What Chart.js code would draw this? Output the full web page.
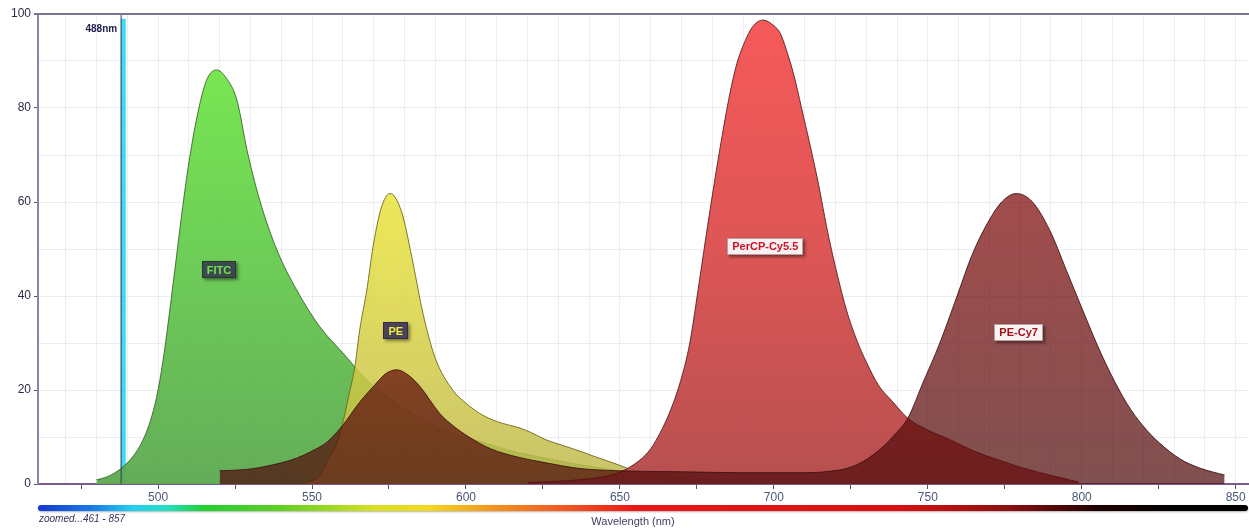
<!DOCTYPE html>
<html>
<head>
<meta charset="utf-8">
<script src="https://cdn.jsdelivr.net/npm/chart.js@4/dist/chart.umd.min.js"></script>
<style>
    html, body { margin: 0; padding: 0; background: #ffffff; overflow: hidden; }
    #wrap { width: 1249px; height: 532px; position: relative; }
</style>
</head>
<body>
<div id="wrap"><canvas id="spectraChart" width="1249" height="532"></canvas></div>
<script>
// emission spectra (wavelength in nm, relative intensity)
const fitcNm = [480, 483.4, 486, 488, 490, 492, 494, 496, 498, 500, 502, 504, 506, 508, 510.4, 513.6, 516, 519, 522, 525.6, 528.9, 533, 538.6, 545, 552.6, 560, 567.8, 575, 583, 595, 605, 615, 626, 637, 648, 660, 675, 690, 700];
const fitcVal = [0.9, 1.5, 2.4, 3.3, 4.5, 6, 8, 10.7, 14.5, 20, 28, 38, 48.5, 59, 70, 81, 86.3, 88.1, 86.5, 81.7, 71, 60.4, 49.8, 41.3, 33.4, 27.9, 22.1, 18.3, 14.8, 11, 9, 7, 5.5, 4.1, 3, 2, 1.2, 0.6, 0];

const peNm = [548, 552, 555.8, 558, 560, 562, 563.9, 565.5, 567.8, 569.8, 572, 573.5, 575.3, 577, 579.5, 582.8, 586, 589.9, 595.7, 600, 604.5, 610, 617.5, 621, 626, 631, 637, 642, 647.7, 653, 658, 665, 672];
const peVal = [0.3, 1.5, 6, 8.5, 13, 19, 24.9, 32.8, 41.3, 50.4, 57.6, 60.5, 61.8, 61, 57, 47, 36.4, 27, 20, 17.2, 15, 13.3, 11.9, 11, 9.4, 8.3, 7, 5.8, 4.5, 3.2, 1.8, 0.6, 0];

const percpNm = [620, 635, 645, 650, 656.5, 660, 663, 666, 668.5, 671, 672.7, 676, 678.5, 682.4, 685.7, 688, 690.5, 693, 696.5, 700, 702, 704, 706.5, 709, 714, 718, 723.6, 727, 730, 734, 738.6, 743.5, 750, 757, 765, 773, 781, 789.6, 799];
const percpVal = [0.3, 0.8, 1.6, 2.5, 5.1, 7.5, 10.8, 15, 19.4, 25, 30, 44, 55, 71, 83, 89.5, 94, 97.2, 98.7, 97.5, 96, 92.5, 87, 80, 65.4, 52, 37, 30.5, 26, 21, 17.5, 14, 11.5, 9.5, 7, 5.1, 3.4, 1.9, 0.4];

const pecy7Nm = [520, 530, 540, 545, 550, 555, 560, 565, 570, 574, 577.5, 581, 585, 591.5, 596, 601, 608, 617, 626, 637, 650, 670, 690, 710, 718, 724.6, 730, 735.4, 739.5, 743.5, 748.4, 753.9, 759.4, 764.6, 770, 774, 778.8, 784, 789.6, 795, 800.3, 806.8, 814.6, 820, 825.3, 832, 838.3, 846.4];
const pecy7Val = [2.8, 3.2, 4.5, 5.5, 7, 9, 12.5, 17, 20.8, 23.5, 24.3, 23.3, 20.8, 15, 12.3, 10, 7.5, 5.7, 4.5, 3.3, 2.8, 2.6, 2.4, 2.4, 2.7, 3.5, 5.2, 7.9, 10.7, 14, 21.5, 30, 39.8, 49.1, 56.2, 60, 61.8, 60, 54, 45.5, 37, 27, 17.2, 12.3, 8.7, 5.3, 3.4, 1.9];

const laserNm = 488;
const laserLabel = '488nm';

const dyeNames = ['FITC', 'PE', 'PerCP-Cy5.5', 'PE-Cy7'];
// where each name tag sits, in wavelength / intensity units
const tagNm = [519.8, 577.2, 697.2, 779.5];
const tagVal = [45.6, 32.6, 50.6, 32.3];

// colour bar under the axis
const barNm = [461, 478, 492, 503, 515, 540, 570, 588, 610, 635, 655, 740, 775, 805, 830];
const barColors = ['#1438d0', '#1a78e8', '#22d0f0', '#22e0c0', '#20d030', '#60d020', '#d8e020', '#f4d820', '#f49020', '#f05020', '#e81818', '#d81010', '#901010', '#200000', '#000000'];

function toPoints(xs, ys) {
    return xs.map((x, i) => ({ x: x, y: ys[i] }));
}

function vfill(top, mid, bottom) {
    return function(context) {
        const chart = context.chart;
        const area = chart.chartArea;
        if (!area) {
            return mid;
        }
        const g = chart.ctx.createLinearGradient(0, area.top, 0, area.bottom);
        g.addColorStop(0, top);
        g.addColorStop(0.5, mid);
        g.addColorStop(1, bottom);
        return g;
    };
}

const tagStyles = [
    { bg: '#3b4a4c', fg: '#74e24e', border: '#2a3434' },
    { bg: '#4a4258', fg: '#f2ee3c', border: '#332c40' },
    { bg: '#f7f1f1', fg: '#d0102c', border: '#b8a0a0' },
    { bg: '#f8f4f4', fg: '#a41018', border: '#b8a0a0' }
];

const extrasPlugin = {
    id: 'extras',
    afterDraw(chart) {
        const ctx = chart.ctx;
        const area = chart.chartArea;
        const xs = chart.scales.x;
        const ys = chart.scales.y;

        // top frame line
        ctx.save();
        ctx.strokeStyle = '#7c7294';
        ctx.lineWidth = 2;
        ctx.beginPath();
        ctx.moveTo(area.left - 4, area.top);
        ctx.lineTo(chart.width, area.top);
        ctx.stroke();

        // laser label
        ctx.font = 'bold 10px "Liberation Sans", Arial, sans-serif';
        ctx.fillStyle = '#22204e';
        ctx.textAlign = 'right';
        ctx.textBaseline = 'middle';
        ctx.fillText(laserLabel, xs.getPixelForValue(laserNm) - 4, area.top + 15);

        // dye name tags
        ctx.font = 'bold 11px "Liberation Sans", Arial, sans-serif';
        ctx.textAlign = 'center';
        dyeNames.forEach((name, i) => {
            const st = tagStyles[i];
            const cx = xs.getPixelForValue(tagNm[i]);
            const cy = ys.getPixelForValue(tagVal[i]);
            const w = ctx.measureText(name).width + 10;
            const h = 17;
            ctx.save();
            ctx.shadowColor = 'rgba(0,0,0,0.45)';
            ctx.shadowBlur = 3;
            ctx.shadowOffsetX = 2;
            ctx.shadowOffsetY = 2;
            ctx.fillStyle = st.bg;
            ctx.fillRect(Math.round(cx - w / 2), Math.round(cy - h / 2), Math.round(w), h);
            ctx.restore();
            ctx.strokeStyle = st.border;
            ctx.lineWidth = 1;
            ctx.strokeRect(Math.round(cx - w / 2) + 0.5, Math.round(cy - h / 2) + 0.5, Math.round(w) - 1, h - 1);
            ctx.fillStyle = st.fg;
            ctx.fillText(name, cx, cy + 1);
        });

        // spectrum colour bar
        const barTop = area.bottom + 21;
        const g = ctx.createLinearGradient(area.left, 0, area.right, 0);
        const span = area.right - area.left;
        barNm.forEach((nm, i) => {
            const p = (xs.getPixelForValue(nm) - area.left) / span;
            g.addColorStop(Math.min(1, Math.max(0, p)), barColors[i]);
        });
        ctx.save();
        ctx.shadowColor = 'rgba(0,0,0,0.3)';
        ctx.shadowBlur = 2;
        ctx.shadowOffsetY = 1;
        ctx.fillStyle = g;
        ctx.beginPath();
        ctx.roundRect(area.left, barTop, span, 6, 3);
        ctx.fill();
        ctx.restore();

        // captions
        ctx.fillStyle = '#33335a';
        ctx.textAlign = 'left';
        ctx.font = 'italic 10px "Liberation Sans", Arial, sans-serif';
        ctx.fillText('zoomed...461 - 857', area.left + 1, barTop + 14);
        ctx.fillStyle = '#404062';
        ctx.textAlign = 'center';
        ctx.font = '11px "Liberation Sans", Arial, sans-serif';
        ctx.fillText('Wavelength (nm)', 633, barTop + 17);
        ctx.restore();
    }
};

const ctx = document.getElementById('spectraChart').getContext('2d');

new Chart(ctx, {
    type: 'line',
    data: {
        datasets: [{
            label: 'laser',
            data: [{ x: laserNm, y: 0 }, { x: laserNm, y: 100 }],
            borderColor: '#3a3a46',
            borderWidth: 1,
            fill: false,
            order: 0
        }, {
            label: dyeNames[3],
            data: toPoints(pecy7Nm, pecy7Val),
            borderColor: 'rgba(60,15,15,0.85)',
            borderWidth: 1,
            backgroundColor: vfill('rgba(150,5,5,0.72)', 'rgba(118,8,8,0.72)', 'rgba(80,12,12,0.72)'),
            fill: 'origin',
            order: 1
        }, {
            label: dyeNames[2],
            data: toPoints(percpNm, percpVal),
            borderColor: 'rgba(80,25,25,0.85)',
            borderWidth: 1,
            backgroundColor: vfill('rgba(246,84,84,0.97)', 'rgba(220,80,80,0.97)', 'rgba(180,74,74,0.97)'),
            fill: 'origin',
            order: 2
        }, {
            label: dyeNames[1],
            data: toPoints(peNm, peVal),
            borderColor: 'rgba(110,105,30,0.9)',
            borderWidth: 1,
            backgroundColor: vfill('rgba(246,244,40,0.82)', 'rgba(226,220,55,0.82)', 'rgba(190,184,80,0.85)'),
            fill: 'origin',
            order: 3
        }, {
            label: dyeNames[0],
            data: toPoints(fitcNm, fitcVal),
            borderColor: 'rgba(50,95,35,0.85)',
            borderWidth: 1,
            backgroundColor: vfill('rgba(116,236,70,0.95)', 'rgba(102,204,78,0.95)', 'rgba(92,168,80,0.95)'),
            fill: 'origin',
            order: 4
        }, {
            label: 'laser bar',
            data: [{ x: laserNm + 0.7, y: 0 }, { x: laserNm + 0.7, y: 99 }],
            borderColor: '#3edcf2',
            borderWidth: 5,
            fill: false,
            order: 5
        }]
    },
    options: {
        responsive: false,
        animation: false,
        events: [],
        elements: {
            point: { radius: 0 },
            line: { cubicInterpolationMode: 'monotone' }
        },
        layout: { padding: { top: 14, right: 1, left: 0, bottom: 0 } },
        plugins: {
            legend: { display: false },
            tooltip: { enabled: false }
        },
        scales: {
            x: {
                type: 'linear',
                min: 461,
                max: 854,
                afterFit: function(scale) { scale.height = 48; },
                ticks: {
                    stepSize: 5,
                    includeBounds: false,
                    autoSkip: false,
                    maxRotation: 0,
                    minRotation: 0,
                    padding: 1,
                    color: '#4a5878',
                    font: { family: '"Liberation Sans", Arial, sans-serif', size: 12 },
                    callback: function(value) {
                        return value % 50 === 0 ? value : '';
                    }
                },
                grid: {
                    color: function(c) {
                        return c.tick && c.tick.value % 10 === 0 ? '#ececf2' : 'rgba(0,0,0,0)';
                    },
                    tickColor: function(c) {
                        return c.tick && c.tick.value % 25 === 0 ? '#555566' : 'rgba(0,0,0,0)';
                    },
                    tickLength: 5
                },
                border: { color: '#7a5a92', width: 2 }
            },
            y: {
                min: 0,
                max: 100,
                afterFit: function(scale) { scale.width = 38; },
                ticks: {
                    stepSize: 10,
                    padding: 3,
                    color: '#2c2c48',
                    font: { family: '"Liberation Sans", Arial, sans-serif', size: 12 },
                    callback: function(value) {
                        return value % 20 === 0 ? value : '';
                    }
                },
                grid: {
                    color: '#ececf2',
                    tickColor: function(c) {
                        return c.tick && c.tick.value % 20 === 0 ? '#555566' : 'rgba(0,0,0,0)';
                    },
                    tickLength: 4
                },
                border: { color: '#8a80a8', width: 2 }
            }
        }
    },
    plugins: [extrasPlugin]
});
</script>
</body>
</html>
